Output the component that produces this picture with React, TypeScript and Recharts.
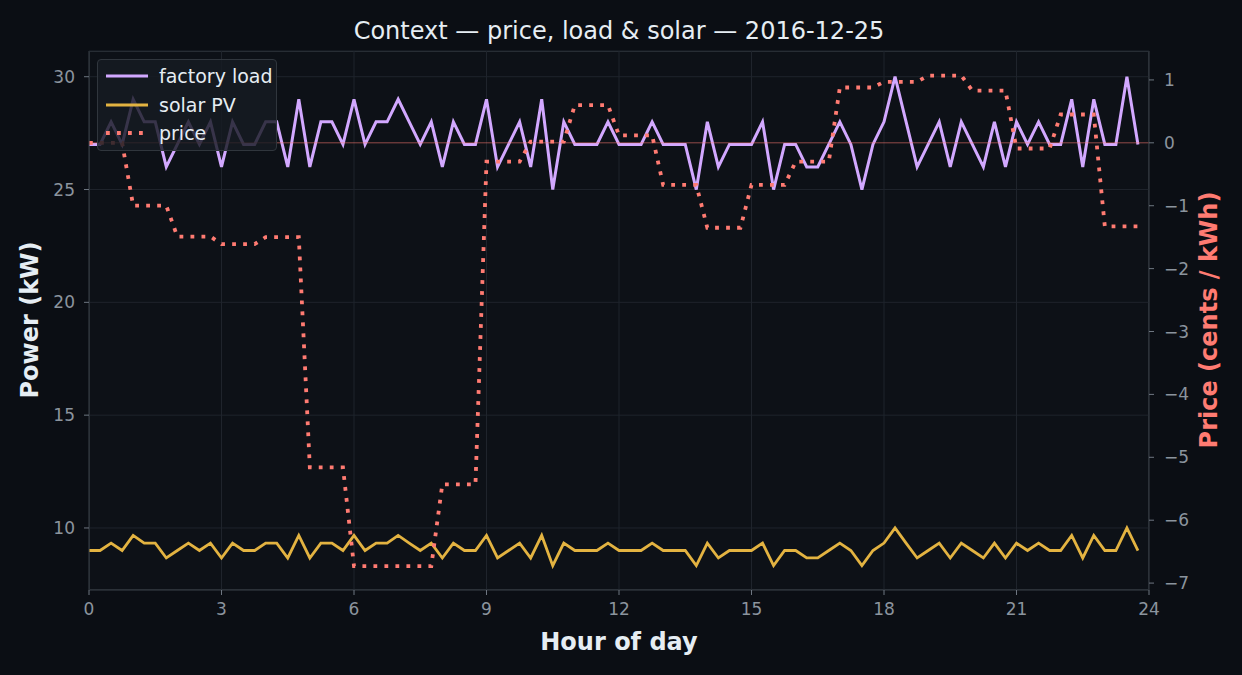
import {
  LineChart,
  Line,
  XAxis,
  YAxis,
  CartesianGrid,
  ReferenceLine,
} from "recharts";

// 15-minute slots, 0.00 .. 23.75
const hours: number[] = Array.from({ length: 96 }, (_, i) => i * 0.25);

const factoryLoad: number[] = [
  27, 27, 28, 27, 29, 28, 28, 26, 27, 28, 27, 28, 26, 28, 27, 27, 28, 28, 26, 29, 26, 28, 28, 27, 29,
  27, 28, 28, 29, 28, 27, 28, 26, 28, 27, 27, 29, 26, 27, 28, 26, 29, 25, 28, 27, 27, 27, 28, 27,
  27, 27, 28, 27, 27, 27, 25, 28, 26, 27, 27, 27, 28, 25, 27, 27, 26, 26, 27, 28, 27, 25, 27, 28,
  30, 28, 26, 27, 28, 26, 28, 27, 26, 28, 26, 28, 27, 28, 27, 27, 29, 26, 29, 27, 27, 30, 27,
];

const solarPV: number[] = [
  9, 9, 9.33, 9, 9.67, 9.33, 9.33, 8.67, 9, 9.33, 9, 9.33, 8.67, 9.33, 9, 9, 9.33, 9.33, 8.67, 9.67, 8.67, 9.33, 9.33, 9, 9.67,
  9, 9.33, 9.33, 9.67, 9.33, 9, 9.33, 8.67, 9.33, 9, 9, 9.67, 8.67, 9, 9.33, 8.67, 9.67, 8.33, 9.33, 9, 9, 9, 9.33, 9,
  9, 9, 9.33, 9, 9, 9, 8.33, 9.33, 8.67, 9, 9, 9, 9.33, 8.33, 9, 9, 8.67, 8.67, 9, 9.33, 9, 8.33, 9, 9.33,
  10, 9.33, 8.67, 9, 9.33, 8.67, 9.33, 9, 8.67, 9.33, 8.67, 9.33, 9, 9.33, 9, 9, 9.67, 8.67, 9.67, 9, 9, 10, 9,
];

// hourly tariff, cents / kWh (held for each 15-min slot of the hour)
const hourlyPrice: number[] = [
  0, -1.0, -1.49, -1.61, -1.5, -5.16, -6.73, -6.73, -5.43, -0.3, 0.02, 0.6,
  0.12, -0.67, -1.35, -0.67, -0.3, 0.88, 0.97, 1.07, 0.83, -0.09, 0.45, -1.33,
];

const xTicks = [0, 3, 6, 9, 12, 15, 18, 21, 24];
const powerTicks = [10, 15, 20, 25, 30];
const priceTicks = [1, 0, -1, -2, -3, -4, -5, -6, -7];

const data = hours.map((h, i) => ({
  hour: h,
  load: factoryLoad[i],
  solar: solarPV[i],
  price: hourlyPrice[Math.floor(i / 4)],
}));

const FONT = "'DejaVu Sans', sans-serif";
const TEXT = "#e6edf3";
const MUTED = "#8b949e";
const LOAD = "#d2a8ff";
const SOLAR = "#e3b341";
const PRICE = "#ff7b72";

const legendItems = [
  { label: "factory load", color: LOAD, dashed: false },
  { label: "solar PV", color: SOLAR, dashed: false },
  { label: "price", color: PRICE, dashed: true },
];

// matplotlib-style unicode minus
const fmtTick = (v: number) => String(v).replace("-", "\u2212");

export default function App() {
  const tick = { fill: MUTED, fontSize: 17, fontFamily: FONT };
  return (
    <div
      style={{
        position: "fixed",
        left: 0,
        top: 0,
        width: 1242,
        height: 675,
        background: "#0b0e14",
        fontFamily: FONT,
        overflow: "hidden",
      }}
    >
      {/* plot area background + frame */}
      <div
        style={{
          position: "absolute",
          left: 89,
          top: 51,
          width: 1060,
          height: 539,
          background: "#0d1117",
          boxSizing: "border-box",
          border: "1px solid #30363d",
        }}
      />
      <div style={{ position: "absolute", left: 0, top: 0, fontSize: 17 }}>
        <LineChart
          width={1242}
          height={675}
          data={data}
          margin={{ top: 51, right: 0, bottom: 0, left: 0 }}
          style={{ fontSize: 17 }}
        >
          <CartesianGrid yAxisId="left" stroke="#1f242c" strokeWidth={1} />
          <XAxis
            dataKey="hour"
            type="number"
            domain={[0, 24]}
            ticks={xTicks}
            height={85}
            fontSize={17}
            tick={tick}
            tickSize={5}
            tickMargin={8}
            stroke="#30363d"
            tickLine={{ stroke: "#6e7681" }}
            allowDataOverflow
          />
          <YAxis
            yAxisId="left"
            domain={[7.25, 31.14]}
            ticks={powerTicks}
            width={89}
            fontSize={17}
            tick={tick}
            tickSize={5}
            tickMargin={9}
            stroke="#30363d"
            tickLine={{ stroke: "#6e7681" }}
            allowDataOverflow
          />
          <YAxis
            yAxisId="right"
            orientation="right"
            domain={[-7.11, 1.46]}
            ticks={priceTicks}
            tickFormatter={fmtTick}
            width={93}
            fontSize={17}
            tick={tick}
            tickSize={5}
            tickMargin={10}
            stroke="#30363d"
            tickLine={{ stroke: "#6e7681" }}
            allowDataOverflow
          />
          <Line
            yAxisId="left"
            dataKey="load"
            stroke={LOAD}
            strokeWidth={3}
            dot={false}
            isAnimationActive={false}
          />
          <Line
            yAxisId="left"
            dataKey="solar"
            stroke={SOLAR}
            strokeWidth={2.8}
            dot={false}
            isAnimationActive={false}
          />
          <ReferenceLine
            yAxisId="right"
            y={0}
            stroke={PRICE}
            strokeOpacity={0.55}
            strokeWidth={1}
          />
          <Line
            yAxisId="right"
            dataKey="price"
            stroke={PRICE}
            strokeWidth={3.8}
            strokeDasharray="3.8 7.2"
            strokeLinecap="butt"
            dot={false}
            isAnimationActive={false}
          />
        </LineChart>
      </div>

      {/* title and axis labels */}
      <div
        style={{
          position: "absolute",
          left: 89,
          width: 1060,
          top: 31,
          transform: "translateY(-50%)",
          textAlign: "center",
          color: TEXT,
          fontSize: 24,
          whiteSpace: "nowrap",
        }}
      >
        Context — price, load &amp; solar — 2016-12-25
      </div>
      <div
        style={{
          position: "absolute",
          left: 89,
          width: 1060,
          top: 642,
          transform: "translateY(-50%)",
          textAlign: "center",
          color: TEXT,
          fontSize: 24,
          fontWeight: "bold",
        }}
      >
        Hour of day
      </div>
      <div
        style={{
          position: "absolute",
          left: 30,
          top: 320,
          transform: "translate(-50%, -50%) rotate(-90deg)",
          whiteSpace: "nowrap",
          color: TEXT,
          fontSize: 24,
          fontWeight: "bold",
        }}
      >
        Power (kW)
      </div>
      <div
        style={{
          position: "absolute",
          left: 1209,
          top: 320,
          transform: "translate(-50%, -50%) rotate(-90deg)",
          whiteSpace: "nowrap",
          color: PRICE,
          fontSize: 24,
          fontWeight: "bold",
        }}
      >
        Price (cents / kWh)
      </div>

      {/* legend */}
      <div
        style={{
          position: "absolute",
          left: 97,
          top: 59,
          width: 180,
          height: 92,
          boxSizing: "border-box",
          background: "rgba(22, 27, 34, 0.82)",
          border: "1px solid #30363d",
          borderRadius: 4,
        }}
      >
        {legendItems.map((it, k) => (
          <div
            key={it.label}
            style={{
              position: "absolute",
              left: 8,
              top: 16 + k * 28.5 - 12,
              height: 24,
              display: "flex",
              alignItems: "center",
            }}
          >
            <svg width={42} height={6} style={{ display: "block" }}>
              <line
                x1={0}
                y1={3}
                x2={42}
                y2={3}
                stroke={it.color}
                strokeWidth={it.dashed ? 3.8 : 3}
                strokeDasharray={it.dashed ? "3.8 7.2" : undefined}
              />
            </svg>
            <span
              style={{
                marginLeft: 11,
                color: TEXT,
                fontSize: 19,
                whiteSpace: "nowrap",
              }}
            >
              {it.label}
            </span>
          </div>
        ))}
      </div>
    </div>
  );
}
